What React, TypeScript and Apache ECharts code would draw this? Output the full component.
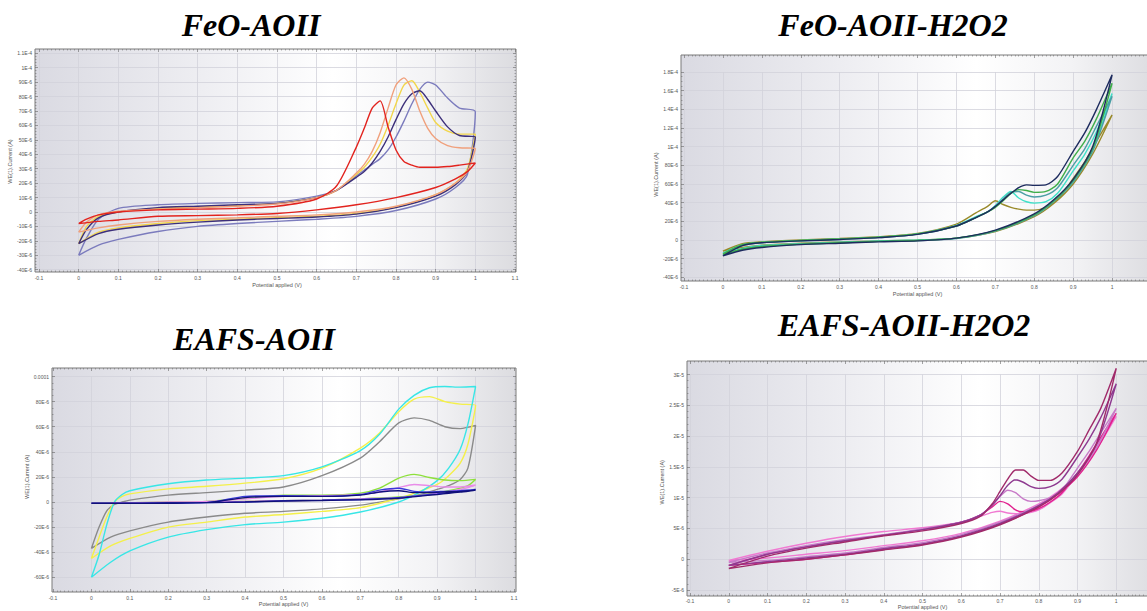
import React, { useEffect, useRef } from 'react';
import * as echarts from 'echarts';

// ---------- tick labels ----------
const xTickLabels = ['-0.1', '0', '0.1', '0.2', '0.3', '0.4', '0.5', '0.6', '0.7', '0.8', '0.9', '1', '1.1'];
const p1YTickLabels = ['-40E-6', '-30E-6', '-20E-6', '-10E-6', '0', '10E-6', '20E-6', '30E-6', '40E-6', '50E-6', '60E-6', '70E-6', '80E-6', '90E-6', '1E-4', '1.1E-4'];
const p2YTickLabels = ['-40E-6', '-20E-6', '0', '20E-6', '40E-6', '60E-6', '80E-6', '1E-4', '1.2E-4', '1.4E-4', '1.6E-4', '1.8E-4'];
const p3YTickLabels = ['-60E-6', '-40E-6', '-20E-6', '0', '20E-6', '40E-6', '60E-6', '80E-6', '0.0001'];
const p4YTickLabels = ['-5E-6', '0', '5E-6', '1E-5', '1.5E-5', '2E-5', '2.5E-5', '3E-5'];

const titles = ['FeO-AOII', 'FeO-AOII-H2O2', 'EAFS-AOII', 'EAFS-AOII-H2O2'];
const xName = 'Potential applied (V)';
const yName = 'WE(1).Current (A)';

// ---------- Panel 1: FeO-AOII (µA) ----------
const p1UpperX = [0, 0.02, 0.05, 0.1, 0.2, 0.3, 0.4, 0.5, 0.6, 0.65, 0.7, 0.72, 0.74, 0.76, 0.78, 0.8, 0.82, 0.84, 0.86, 0.88, 0.9, 0.93, 0.96, 1.0];
const p1LowerX = [0, 0.05, 0.1, 0.2, 0.3, 0.4, 0.5, 0.6, 0.7, 0.8, 0.9, 0.95, 0.98, 1.0];
const p1SlateUp = [-30, -18, -5, 2.5, 5, 6, 6.5, 7, 11, 15, 25, 29, 33, 37, 43, 52, 63, 75, 85, 90, 88, 79, 72, 69.5];
const p1SlateLow = [-30, -23, -19, -13.5, -10, -8, -6.5, -5, -3, 1, 9, 17, 26, 69.5];
const p1NavyUp = [-22, -12, -4, 0, 3, 4, 5, 6, 10, 15, 24, 28, 34, 42, 52, 64, 75, 82, 84, 78, 70, 59, 53, 52];
const p1NavyLow = [-22, -15, -12, -9, -7, -5.5, -4.5, -3.5, -1.5, 3, 11, 19, 28, 52];
const p1YellowUp = [-22, -10, -3, 0, 2.5, 3.5, 4.5, 6, 10, 15, 26, 31, 38, 47, 60, 75, 88, 91, 83, 72, 62, 56, 54, 54];
const p1YellowLow = [-22, -14, -11, -8, -6, -5, -4, -3, -1, 3.5, 12, 20, 30, 54];
const p1SalmonUp = [-14, -7, -2, 0.5, 2, 3, 4, 5.5, 10, 15, 27, 33, 42, 55, 72, 88, 93, 85, 70, 58, 51, 46, 44.5, 44];
const p1SalmonLow = [-14, -11, -9, -6.5, -5, -4, -3, -2, 0, 4, 12, 20, 28, 44];
const p1RedUp = [-8, -5, -2, 0, 1.5, 2, 2.5, 4, 9, 18, 45, 58, 72, 77, 59, 43, 35, 32.5, 31, 31, 31, 31.5, 32.5, 34];
const p1RedLow = [-8, -6.5, -5.5, -3, -2.5, -2, -1, 1.5, 5, 10, 17, 23, 28, 34];

// ---------- Panel 2: FeO-AOII-H2O2 (µA) ----------
const p2UpperX = [0, 0.05, 0.1, 0.2, 0.3, 0.4, 0.5, 0.6, 0.65, 0.68, 0.7, 0.72, 0.74, 0.76, 0.78, 0.8, 0.83, 0.86, 0.9, 0.93, 0.96, 1.0];
const p2LowerX = [0, 0.05, 0.1, 0.2, 0.3, 0.4, 0.5, 0.6, 0.7, 0.8, 0.85, 0.9, 0.95, 1.0];
const p2NavyUp = [-17, -6, -3, -1, 0.5, 2.5, 6, 15, 24, 30, 36, 43, 50, 56, 59, 58.5, 59, 68, 95, 115, 140, 177];
const p2NavyLow = [-17, -11, -8, -5, -3.5, -2, -1, 2, 10.5, 28, 43, 65, 100, 177];
const p2GreenUp = [-15, -5, -2.5, -0.5, 1, 3, 6.5, 15, 24, 30, 35, 42, 50, 54, 53, 51, 52, 60, 88, 106, 130, 168];
const p2GreenLow = [-15, -10, -7, -4.5, -3, -1.5, -0.5, 2, 10, 27, 42, 64, 98, 168];
const p2TealUp = [-16, -6, -3, -1, 0.5, 2.5, 6, 15, 24, 30, 36, 44, 51, 52, 48, 46, 48, 56, 80, 98, 122, 154];
const p2TealLow = [-16, -10, -7, -4.5, -3, -1.5, -0.5, 1.5, 9.5, 26, 41, 62, 95, 154];
const p2CyanUp = [-14, -5, -2.5, -0.5, 1, 3, 6.5, 15.5, 25, 30, 37, 46, 52, 45, 41, 39.5, 41, 50, 74, 92, 116, 157];
const p2CyanLow = [-14, -9, -6, -4, -2.5, -1, 0, 2, 10, 27, 42, 63, 97, 157];
const p2OliveUp = [-12, -4, -2, 0, 1.5, 3.5, 7, 17, 29, 36, 42, 38, 35, 33, 32, 32, 35, 43, 66, 84, 106, 134];
const p2OliveLow = [-12, -8, -5.5, -3.5, -2, -1, 0, 2, 9, 25, 39, 60, 92, 134];

// ---------- Panel 3: EAFS-AOII (µA) ----------
const p3UpperX = [0, 0.02, 0.04, 0.06, 0.08, 0.1, 0.2, 0.3, 0.4, 0.5, 0.6, 0.7, 0.75, 0.8, 0.84, 0.88, 0.92, 0.96, 1.0];
const p3LowerX = [0, 0.05, 0.1, 0.2, 0.3, 0.4, 0.5, 0.6, 0.7, 0.8, 0.85, 0.9, 0.93, 0.96, 0.98, 1.0];
const p3GrayUp = [-37, -20, -7, -2, 0, 1.5, 5.5, 7.5, 9.5, 12, 21, 35, 48, 63, 67, 65, 60, 58.5, 61];
const p3GrayLow = [-37, -28, -23, -16, -12, -9, -7.5, -5.5, -2.5, 2.5, 5.5, 10, 13, 18, 27, 61];
const p3YellowUp = [-45, -28, -12, 0, 4.5, 6.5, 10.5, 12.5, 15, 18.5, 27, 43, 55, 72, 82, 84, 80, 78, 77];
const p3YellowLow = [-45, -35, -29, -20, -16, -12, -10, -7.5, -4.5, 3, 8, 14, 21, 31, 46, 77];
const p3CyanUp = [-60, -42, -18, 0, 6, 9, 14.5, 17.5, 19, 21, 28, 41, 54, 74, 85, 91, 92, 91.5, 92];
const p3CyanLow = [-60, -48, -39, -28, -22, -18, -16, -13, -8, 0, 7, 17, 27, 42, 62, 92];
const p3LimeUp = [-1, -1, -1, -0.5, -0.5, -0.5, 0, 0.5, 3, 5.5, 5.5, 7, 11, 19, 22, 19.5, 17.5, 17, 18];
const p3LimeLow = [-1, -1, -1, -0.5, 0, 0.5, 1, 1.5, 2.5, 4, 5.5, 7.5, 9, 11, 13, 18];
const p3PinkUp = [-1, -1, -1, -0.5, -0.5, -0.5, 0, 0.5, 2.5, 4.5, 5, 6, 8, 11.5, 14, 13, 12, 12, 13.5];
const p3PinkLow = [-1, -1, -1, -0.5, 0, 0.5, 1, 1.5, 2.5, 3.5, 5, 7, 8.5, 10, 11.5, 13.5];
const p3BlueUp = [-1, -1, -1, -1, -1, -1, -0.5, -0.5, 4.5, 5, 4.5, 6, 9.5, 11, 8.5, 8, 8.5, 9, 10];
const p3BlueLow = [-1, -1, -1, -1, -0.5, 0, 1, 1.5, 2, 3.5, 5, 6.5, 7.5, 8.5, 9, 10];
const p3NavyUp = [-1, -1, -1, -1, -1, -1, -0.8, -0.5, 3.5, 4.5, 4.5, 5.5, 8, 9, 7.5, 7.5, 8, 8.5, 9.5];
const p3NavyLow = [-1, -1, -1, -1, -0.5, 0, 0.8, 1.2, 1.8, 3, 4.5, 6, 7, 8, 8.5, 9.5];

// ---------- Panel 4: EAFS-AOII-H2O2 (µA) ----------
const p4UpperX = [0, 0.1, 0.2, 0.3, 0.4, 0.5, 0.6, 0.65, 0.68, 0.7, 0.72, 0.74, 0.76, 0.78, 0.8, 0.83, 0.86, 0.9, 0.93, 0.96, 1.0];
const p4LowerX = [0, 0.1, 0.2, 0.3, 0.4, 0.5, 0.6, 0.7, 0.8, 0.85, 0.9, 0.95, 1.0];
const p4MaroonUp = [-1.5, 0.5, 1.8, 2.8, 3.8, 4.6, 5.8, 7, 9, 11, 13, 14.5, 14.5, 13.5, 12.8, 12.8, 14, 17.5, 21, 24.5, 31];
const p4MaroonLow = [-1.5, -0.6, 0, 0.7, 1.5, 2.3, 3.6, 5.6, 8.5, 10.6, 13.7, 19, 31];
const p4PurpleUp = [-1, 0.8, 2, 3, 3.9, 4.8, 6, 7.2, 8.8, 10.3, 12, 12.9, 12.5, 11.8, 11.5, 11.8, 13, 16.6, 19.5, 23, 28.5];
const p4PurpleLow = [-1, -0.4, 0.2, 0.8, 1.7, 2.5, 3.8, 5.8, 8.7, 10.8, 14, 18.8, 28.5];
const p4VioletUp = [-0.5, 1, 2.2, 3.2, 4, 4.9, 6, 7.2, 8.8, 10.2, 11.2, 10.8, 9.8, 9.4, 9.5, 10, 11.2, 14.8, 17.5, 20.5, 24.5];
const p4VioletLow = [-0.5, -0.2, 0.4, 1, 1.9, 2.7, 4, 6, 8.8, 10.8, 13.8, 18.2, 24.5];
const p4MagentaUp = [-1, 0.8, 2, 3, 3.9, 4.8, 6, 7.2, 8.5, 9.4, 9, 8, 7.7, 7.8, 8.2, 9.3, 10.8, 14, 16.8, 19.8, 23.7];
const p4MagentaLow = [-1, -0.5, 0, 0.7, 1.6, 2.4, 3.7, 5.7, 8.5, 10.6, 13.4, 17.8, 23.7];
const p4PinkUp = [-0.2, 1.3, 2.6, 3.7, 4.5, 5.1, 6, 7, 7.6, 7.8, 7.5, 7.4, 7.4, 7.6, 8, 9.2, 10.6, 13.8, 16.4, 19.5, 23.2];
const p4PinkLow = [-0.2, 0.2, 0.8, 1.4, 2.2, 3, 4.2, 6.2, 9, 11, 13.8, 18, 23.2];

type Curve = { color: string; up: number[]; low: number[] };

const panels = [
  {
    frame: { left: 35, top: 49, width: 481, height: 223 },
    inner: { left: 39, top: 53.3, width: 476, height: 216.4 },
    off: { b: 2.3, l: 4, t: 4.3, r: 1 },
    yMin: -40, yMax: 110, yInt: 10, yMinor: 5, yLabels: p1YTickLabels,
    yNameGap: 19, xLabelMargin: 3, xNameGap: 10, showMaxX: true,
    title: { x: 251, y: 9 },
    upX: p1UpperX, lowX: p1LowerX,
    curves: [
      { color: '#7b7bbd', up: p1SlateUp, low: p1SlateLow },
      { color: '#f2d64b', up: p1YellowUp, low: p1YellowLow },
      { color: '#3c2f7a', up: p1NavyUp, low: p1NavyLow },
      { color: '#f0a07c', up: p1SalmonUp, low: p1SalmonLow },
      { color: '#e2231e', up: p1RedUp, low: p1RedLow },
    ] as Curve[],
  },
  {
    frame: { left: 681, top: 55, width: 476, height: 226 },
    inner: { left: 684, top: 72, width: 467, height: 205.3 },
    off: { b: 3.7, l: 3, t: 17, r: 5 },
    yMin: -40, yMax: 180, yInt: 20, yMinor: 4, yLabels: p2YTickLabels,
    yNameGap: 17, xLabelMargin: 3, xNameGap: 10, showMaxX: false,
    title: { x: 893, y: 9 },
    upX: p2UpperX, lowX: p2LowerX,
    curves: [
      { color: '#9a8a2a', up: p2OliveUp, low: p2OliveLow },
      { color: '#3fe0c8', up: p2CyanUp, low: p2CyanLow },
      { color: '#4a9fa5', up: p2TealUp, low: p2TealLow },
      { color: '#3fae4a', up: p2GreenUp, low: p2GreenLow },
      { color: '#1d2b5e', up: p2NavyUp, low: p2NavyLow },
    ] as Curve[],
  },
  {
    frame: { left: 52, top: 368, width: 464, height: 224 },
    inner: { left: 53, top: 376.5, width: 461, height: 200.8 },
    off: { b: 14.7, l: 1, t: 8.5, r: 2 },
    yMin: -60, yMax: 100, yInt: 20, yMinor: 4, yLabels: p3YTickLabels,
    yNameGap: 19, xLabelMargin: 3, xNameGap: 9, showMaxX: true,
    title: { x: 254, y: 323 },
    upX: p3UpperX, lowX: p3LowerX,
    curves: [
      { color: '#8a8a8a', up: p3GrayUp, low: p3GrayLow },
      { color: '#f4f04a', up: p3YellowUp, low: p3YellowLow },
      { color: '#38e6e6', up: p3CyanUp, low: p3CyanLow },
      { color: '#8ee03c', up: p3LimeUp, low: p3LimeLow },
      { color: '#e88ce8', up: p3PinkUp, low: p3PinkLow },
      { color: '#3a3ad8', up: p3BlueUp, low: p3BlueLow },
      { color: '#10107a', up: p3NavyUp, low: p3NavyLow },
    ] as Curve[],
  },
  {
    frame: { left: 687, top: 361, width: 472, height: 235 },
    inner: { left: 690, top: 374.5, width: 465, height: 215.5 },
    off: { b: 6, l: 3, t: 13.5, r: 4 },
    yMin: -5, yMax: 30, yInt: 5, yMinor: 5, yLabels: p4YTickLabels,
    yNameGap: 18, xLabelMargin: 2, xNameGap: 8, showMaxX: false,
    title: { x: 904, y: 309 },
    upX: p4UpperX, lowX: p4LowerX,
    curves: [
      { color: '#f07ad2', up: p4PinkUp, low: p4PinkLow },
      { color: '#e0208e', up: p4MagentaUp, low: p4MagentaLow },
      { color: '#c87ac8', up: p4VioletUp, low: p4VioletLow },
      { color: '#8e3a90', up: p4PurpleUp, low: p4PurpleLow },
      { color: '#a02a6a', up: p4MaroonUp, low: p4MaroonLow },
    ] as Curve[],
  },
];

function loop(upX: number[], up: number[], lowX: number[], low: number[]) {
  const pts: number[][] = lowX.map((x, i) => [x, low[i]]);
  for (let i = upX.length - 2; i >= 0; i--) pts.push([upX[i], up[i]]);
  return pts;
}

const tickColor = '#666';
const sansFamily = '"Liberation Sans", Arial, sans-serif';
const labelStyle = { fontSize: 5, color: '#555', fontFamily: sansFamily };

function buildOption() {
  const grid: any[] = [];
  const xAxis: any[] = [];
  const yAxis: any[] = [];
  const series: any[] = [];
  const graphic: any[] = [];

  panels.forEach((p, i) => {
    grid.push({
      ...p.frame,
      show: true,
      z: 0,
      outerBoundsMode: 'none',
      borderColor: '#7a7a7a',
      borderWidth: 1,
      backgroundColor: new echarts.graphic.LinearGradient(0, 0, 1, 0, [
        { offset: 0, color: '#dadae2' },
        { offset: 0.35, color: '#eeeef2' },
        { offset: 0.62, color: '#ffffff' },
        { offset: 0.82, color: '#f3f3f5' },
        { offset: 1, color: '#dcdce0' },
      ]),
    });
    xAxis.push({ type: 'value', gridIndex: i, show: false, min: 0, max: 1 });
    yAxis.push({ type: 'value', gridIndex: i, show: false, min: 0, max: 1 });
  });

  panels.forEach((p) => {
    grid.push({ ...p.inner, show: false, outerBoundsMode: 'none' });
  });

  const tick = { show: true, inside: true, length: 3, lineStyle: { color: tickColor, width: 0.6 } };

  panels.forEach((p, i) => {
    const g = 4 + i;
    xAxis.push({
      type: 'value', gridIndex: g, position: 'bottom', offset: p.off.b, z: 1,
      min: -0.1, max: 1.1, interval: 0.1,
      name: xName, nameLocation: 'middle', nameGap: p.xNameGap,
      nameTextStyle: { fontSize: 5.5, color: '#555', fontFamily: sansFamily },
      axisLine: { show: false, onZero: false },
      axisTick: tick,
      minorTick: { show: true, splitNumber: 10, length: 1.5, lineStyle: { color: tickColor, width: 0.5 } },
      axisLabel: {
        ...labelStyle, margin: p.xLabelMargin, showMaxLabel: p.showMaxX,
        formatter: (v: number) => xTickLabels[Math.round((v + 0.1) / 0.1)] ?? '',
      },
      splitLine: { show: true, lineStyle: { color: '#d2d2da', width: 0.8 } },
    });
    yAxis.push({
      type: 'value', gridIndex: g, position: 'left', offset: p.off.l, z: 1,
      min: p.yMin, max: p.yMax, interval: p.yInt,
      name: yName, nameLocation: 'middle', nameGap: p.yNameGap, nameRotate: 90,
      nameTextStyle: { fontSize: 5.5, color: '#555', fontFamily: sansFamily },
      axisLine: { show: false, onZero: false },
      axisTick: tick,
      minorTick: { show: true, splitNumber: p.yMinor, length: 1.5, lineStyle: { color: tickColor, width: 0.5 } },
      axisLabel: {
        ...labelStyle, margin: 3,
        formatter: (v: number) => p.yLabels[Math.round((v - p.yMin) / p.yInt)] ?? '',
      },
      splitLine: { show: true, lineStyle: { color: '#d2d2da', width: 0.8 } },
    });
  });

  panels.forEach((p, i) => {
    const g = 4 + i;
    xAxis.push({
      type: 'value', gridIndex: g, position: 'top', offset: p.off.t, z: 1,
      min: -0.1, max: 1.1, interval: 0.1,
      axisLine: { show: false, onZero: false },
      axisTick: tick,
      minorTick: { show: true, splitNumber: 10, length: 1.5, lineStyle: { color: tickColor, width: 0.5 } },
      axisLabel: { show: false },
      splitLine: { show: false },
    });
    yAxis.push({
      type: 'value', gridIndex: g, position: 'right', offset: p.off.r, z: 1,
      min: p.yMin, max: p.yMax, interval: p.yInt,
      axisLine: { show: false, onZero: false },
      axisTick: tick,
      minorTick: { show: true, splitNumber: p.yMinor, length: 1.5, lineStyle: { color: tickColor, width: 0.5 } },
      axisLabel: { show: false },
      splitLine: { show: false },
    });
  });

  panels.forEach((p, i) => {
    p.curves.forEach((c) => {
      series.push({
        type: 'line',
        xAxisIndex: 4 + i,
        yAxisIndex: 4 + i,
        data: loop(p.upX, c.up, p.lowX, c.low),
        symbol: 'none',
        showSymbol: false,
        smooth: 0.25,
        clip: false,
        silent: true,
        z: 3,
        lineStyle: { color: c.color, width: 1.4 },
        itemStyle: { color: c.color },
      });
    });
    graphic.push({
      type: 'text',
      x: p.title.x,
      y: p.title.y,
      z: 10,
      style: {
        text: titles[i],
        fontFamily: '"Liberation Serif", "Times New Roman", serif',
        fontStyle: 'italic',
        fontWeight: 'bold',
        fontSize: 32,
        fill: '#000',
        align: 'center',
        verticalAlign: 'top',
        textAlign: 'center',
        textVerticalAlign: 'top',
      },
    });
  });

  return {
    animation: false,
    backgroundColor: '#ffffff',
    grid,
    xAxis,
    yAxis,
    series,
    graphic,
  };
}

export default function App() {
  const ref = useRef<HTMLDivElement>(null);
  useEffect(() => {
    if (!ref.current) return;
    const chart = echarts.init(ref.current, undefined, { renderer: 'svg' });
    chart.setOption(buildOption() as any);
    return () => chart.dispose();
  }, []);
  return (
    <div
      ref={ref}
      style={{ position: 'fixed', left: 0, top: 0, width: 1147, height: 611, background: '#fff' }}
    />
  );
}
